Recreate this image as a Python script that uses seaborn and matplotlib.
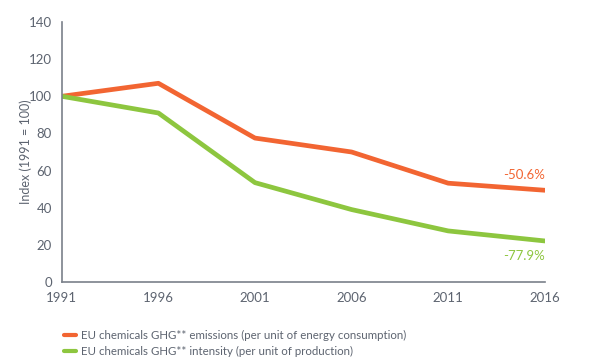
import pandas as pd
import numpy as np
import seaborn as sns
import matplotlib.pyplot as plt

# dati
anni = [1991, 1996, 2001, 2006, 2011, 2016]
emissioni = [100, 107, 77.5, 70, 53.2, 49.4]
intensita = [100, 91, 53.5, 39, 27.5, 22.1]
etichette = ["-50.6%", "-77.9%"]
nomi = ["EU chemicals GHG** emissions (per unit of energy consumption)",
        "EU chemicals GHG** intensity (per unit of production)"]

arancio = "#F26532"
verde = "#8DC63F"
grigio = "#5d6470"

df = pd.DataFrame({"Anno": anni * 2,
                   "Indice": emissioni + intensita,
                   "Serie": [nomi[0]] * len(anni) + [nomi[1]] * len(anni)})

sns.set_style("white")
plt.rcParams['font.family'] = ['Lato', 'DejaVu Sans']

fig = plt.figure(figsize=(6, 3.59), dpi=100)
ax = fig.add_axes([0.103, 0.2145, 0.805, 0.7242])
sns.lineplot(data=df, x="Anno", y="Indice", hue="Serie",
             palette=[arancio, verde], linewidth=3.4, ax=ax)

ax.set_xlim(1991, 2016)
ax.set_ylim(0, 140)
ax.set_xticks(anni)
ax.set_yticks(range(0, 141, 20))
ax.tick_params(axis="both", length=0, labelsize=9.5, colors=grigio, pad=7)
ax.set_xlabel("")
ax.set_ylabel("Index (1991 = 100)", fontsize=9, color=grigio)
ax.yaxis.set_label_coords(-0.062, 0.5)
sns.despine(ax=ax)
for s in ["left", "bottom"]:
    ax.spines[s].set_color("#7a808a")
    ax.spines[s].set_linewidth(1.2)

ax.text(2016, emissioni[-1] + 5, etichette[0], color=arancio, fontsize=9.5, ha="right", va="bottom")
ax.text(2016, intensita[-1] - 5, etichette[1], color=verde, fontsize=9.5, ha="right", va="top")

leg = ax.legend(loc="upper left", bbox_to_anchor=(-0.005, -0.165), frameon=False,
                fontsize=8.3, handlelength=1.0, handletextpad=0.5, labelspacing=0.45,
                borderaxespad=0)
for t in leg.get_texts():
    t.set_color(grigio)
for h in leg.get_lines():
    h.set_linewidth(3)

plt.savefig("out.png", dpi=100)
